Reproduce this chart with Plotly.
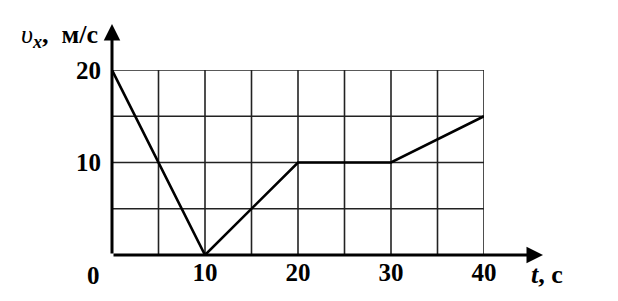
import plotly.graph_objects as go

t_vals = [0, 10, 20, 30, 40]
v_vals = [20, 0, 10, 10, 15]
x_tick_vals = [10, 20, 30, 40]
x_tick_text = ["10", "20", "30", "40"]
y_tick_vals = [10, 20]
y_tick_text = ["10", "20"]
x_grid = [5, 10, 15, 20, 25, 30, 35, 40]
y_grid = [5, 10, 15, 20]

FONT = "Liberation Serif"
fig = go.Figure()

shapes = []
for gx in x_grid:
    shapes.append(dict(type="line", xref="x", yref="y", x0=gx, x1=gx, y0=0, y1=20,
                       line=dict(color="#222", width=1.6), layer="below"))
for gy in y_grid:
    shapes.append(dict(type="line", xref="x", yref="y", x0=0, x1=40, y0=gy, y1=gy,
                       line=dict(color="#222", width=1.6), layer="below"))

fig.add_trace(go.Scatter(x=t_vals, y=v_vals, mode="lines",
                         line=dict(color="black", width=2.6), cliponaxis=False,
                         hoverinfo="skip"))

XA = (543 - 112) / 372.0
YA = (255 - 24) / 185.0
fig.add_annotation(x=XA, y=0, xref="paper", yref="paper", ax=-431, ay=0, showarrow=True,
                   arrowhead=2, arrowsize=1.1, arrowwidth=3, arrowcolor="black", text="")
fig.add_annotation(x=0, y=YA, xref="paper", yref="paper", ax=0, ay=231, showarrow=True,
                   arrowhead=2, arrowsize=1.1, arrowwidth=3, arrowcolor="black", text="")
fig.add_annotation(x=0, y=0, xref="paper", yref="paper", text="<b>0</b>", showarrow=False,
                   xanchor="right", yanchor="middle", xshift=-10, yshift=-20,
                   font=dict(family=FONT, size=25, color="black"))
fig.add_annotation(x=0, y=1, xref="paper", yref="paper", xanchor="right", yanchor="bottom",
                   xshift=-12, yshift=16,
                   text="<i>υ</i><sub><b><i>x</i></b></sub><b>,  м/с</b>", showarrow=False,
                   font=dict(family=FONT, size=26, color="black"))
fig.add_annotation(x=XA, y=0, xref="paper", yref="paper", xanchor="left", yanchor="middle",
                   xshift=-14, yshift=-19,
                   text="<b><i>t</i>, с</b>", showarrow=False,
                   font=dict(family=FONT, size=26, color="black"))

fig.update_layout(
    width=618, height=301,
    margin=dict(l=112, r=134, t=70, b=46),
    paper_bgcolor="white", plot_bgcolor="white",
    showlegend=False,
    shapes=shapes,
    xaxis=dict(range=[0, 40], showgrid=False, zeroline=False, showline=False,
               tickvals=x_tick_vals, ticktext=["<b>%s</b>" % s for s in x_tick_text],
               tickfont=dict(family=FONT, size=25, color="black"), ticks="", ticklen=0),
    yaxis=dict(range=[0, 20], showgrid=False, zeroline=False, showline=False,
               tickvals=y_tick_vals, ticktext=["<b>%s</b>" % s for s in y_tick_text],
               tickfont=dict(family=FONT, size=25, color="black"), ticks="", ticklen=0,
               ticklabelstandoff=10),
)
fig.write_html("out.html")
